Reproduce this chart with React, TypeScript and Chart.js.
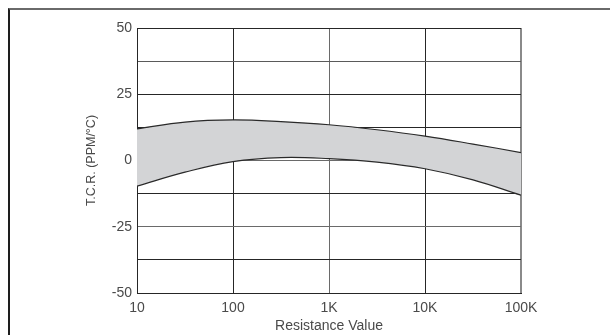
import React, { useEffect, useRef } from "react";
import { Chart, registerables } from "chart.js";

Chart.register(...registerables);

// Resistance values (ohms) at which the band edges were read
const resistance = [10, 31.6, 100, 316, 1000, 3162, 10000, 31623, 100000];
// Upper and lower limits of the T.C.R. band (PPM/°C)
const upperTcr = [11.9, 14.5, 15.3, 14.7, 13.5, 11.6, 9.2, 6.2, 3.0];
const lowerTcr = [-9.7, -4.4, -0.4, 1.1, 0.7, -0.6, -3.1, -7.3, -13.1];

// Axis ticks
const xTickValues = [10, 100, 1000, 10000, 100000];
const xTickLabels = ["10", "100", "1K", "10K", "100K"];
const yLabelledTicks = [50, 25, 0, -25, -50];

const FONT = "'Liberation Sans', Arial, sans-serif";
const TEXT = "#4a4a4a";

function yGridColor(v: number): string {
  if (v === 37.5) return "#5a5a5a";
  if (v === 0) return "#6a6a6a";
  if (v === -25) return "#6a6a6a";
  return "#262626";
}
function xGridColor(v: number): string {
  if (v === 1000) return "#6a6a6a";
  if (v === 100000) return "#8a8a8a";
  return "#262626";
}

export default function App() {
  const ref = useRef<HTMLCanvasElement | null>(null);

  useEffect(() => {
    if (!ref.current) return;
    const chart = new Chart(ref.current, {
      type: "line",
      data: {
        datasets: [
          {
            label: "upper",
            data: resistance.map((r, i) => ({ x: r, y: upperTcr[i] })),
            borderColor: "#2a2a2a",
            borderWidth: 1.2,
            pointRadius: 0,
            tension: 0.4,
            fill: false,
          },
          {
            label: "lower",
            data: resistance.map((r, i) => ({ x: r, y: lowerTcr[i] })),
            borderColor: "#2a2a2a",
            borderWidth: 1.2,
            pointRadius: 0,
            tension: 0.4,
            fill: "-1",
            backgroundColor: "#d3d4d6",
          },
        ],
      },
      options: {
        animation: false,
        responsive: false,
        devicePixelRatio: 1,
        layout: { padding: { left: 80, top: 28, right: 89, bottom: 0 } },
        plugins: {
          legend: { display: false },
          tooltip: { enabled: false },
        },
        scales: {
          x: {
            type: "logarithmic",
            min: 10,
            max: 100000,
            z: 1,
            afterBuildTicks: (axis: any) => {
              axis.ticks = xTickValues.map((v) => ({ value: v }));
            },
            afterFit: (axis: any) => {
              axis.height = 42;
            },
            grid: {
              drawTicks: false,
              color: (ctx: any) => xGridColor(ctx.tick ? ctx.tick.value : 0),
              lineWidth: (ctx: any) => (ctx.tick && ctx.tick.value === 100000 ? 2 : 1),
            },
            border: { display: true, color: "#262626", width: 1 },
            ticks: {
              padding: 7,
              color: TEXT,
              font: { family: FONT, size: 14 },
              maxRotation: 0,
              autoSkip: false,
              callback: (v: any) => {
                const i = xTickValues.indexOf(Number(v));
                return i >= 0 ? xTickLabels[i] : "";
              },
            },
            title: {
              display: true,
              text: "Resistance Value",
              color: TEXT,
              font: { family: FONT, size: 14 },
              padding: { top: 0, bottom: 0 },
            },
          },
          y: {
            type: "linear",
            min: -50,
            max: 50,
            z: 1,
            afterFit: (axis: any) => {
              axis.width = 57;
            },
            grid: {
              drawTicks: false,
              color: (ctx: any) => yGridColor(ctx.tick ? ctx.tick.value : 0),
              lineWidth: 1,
            },
            border: { display: true, color: "#262626", width: 1 },
            ticks: {
              stepSize: 12.5,
              padding: 5,
              color: TEXT,
              font: { family: FONT, size: 14 },
              autoSkip: false,
              callback: (v: any) =>
                yLabelledTicks.indexOf(Number(v)) >= 0 ? String(v) : "",
            },
            title: {
              display: true,
              text: "T.C.R. (PPM/°C)",
              color: TEXT,
              font: { family: FONT, size: 12.5 },
              padding: { top: 4, bottom: 4 },
            },
          },
        },
      },
    } as any);
    return () => chart.destroy();
  }, []);

  return (
    <div style={{ position: "absolute", left: 0, top: 0, width: 610, height: 335, overflow: "hidden", background: "#fff" }}>
      <div
        style={{
          position: "absolute",
          left: 8,
          top: 8,
          width: 602,
          height: 327,
          borderTop: "2px solid #6a6a6a",
          borderLeft: "2px solid #1e1e1e",
          boxSizing: "border-box",
        }}
      />
      <canvas
        ref={ref}
        width={610}
        height={335}
        style={{ position: "absolute", left: 0, top: 0, width: 610, height: 335 }}
      />
    </div>
  );
}
